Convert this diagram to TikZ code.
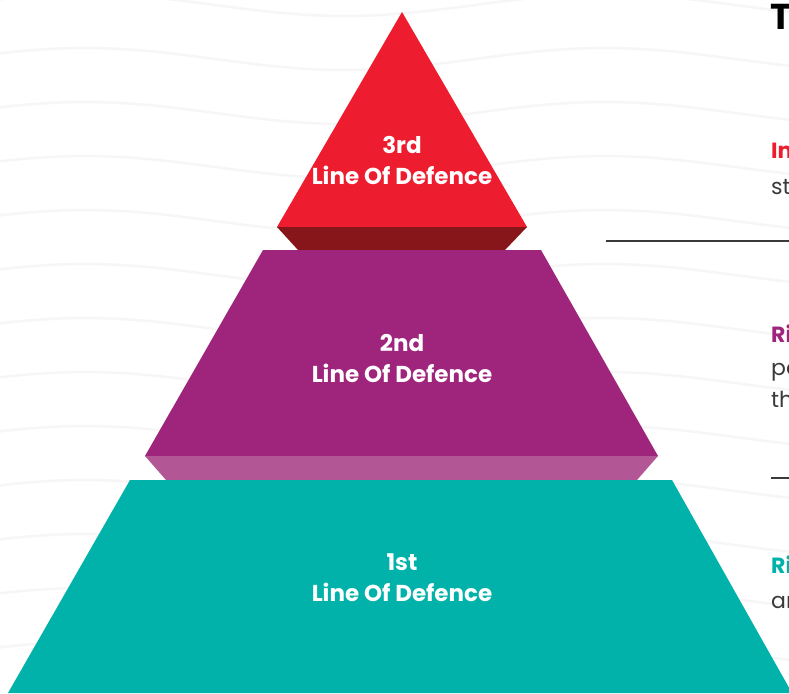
\documentclass[tikz,border=0pt]{standalone}
\usepackage{fontspec}
\setmainfont{Poppins}[BoldFont={Poppins SemiBold}]
\newfontfamily\heavy{Poppins}[UprightFont={* Bold}]
\definecolor{cRed}{HTML}{ED1C2E}
\definecolor{cDarkRed}{HTML}{86161A}
\definecolor{cPurple}{HTML}{9E247C}
\definecolor{cLightPurple}{HTML}{B25696}
\definecolor{cTeal}{HTML}{00B2A9}
\definecolor{cWave}{HTML}{F6F6F6}
\definecolor{cBody}{HTML}{3A3A3A}
\tikzset{
  wave/.style={draw=cWave, line width=2.5pt},
  lab/.style={text=white, font=\heavy\fontsize{23}{26}\selectfont, anchor=base, inner sep=0pt},
  head/.style={font=\heavy\fontsize{22}{26}\selectfont, anchor=base west, inner sep=0pt},
  body/.style={text=cBody, font=\fontsize{22}{26}\selectfont, anchor=base west, inner sep=0pt},
  rule/.style={draw=cBody, line width=1.3pt}
}
\begin{document}
\begin{tikzpicture}[x=1pt,y=-1pt]
\useasboundingbox (0,0) rectangle (789,693);
\clip (0,0) rectangle (789,693);
\fill[white] (0,0) rectangle (789,693);
% background waves
\foreach \c in {5,59,...,740}
  \draw[wave] plot[domain=-10:800,samples=60,smooth] (\x,{\c-11*cos(0.6923*(\x-85))});
% pyramid
\fill[cRed] (402,12) -- (527,227) -- (277,227) -- cycle;
\fill[cDarkRed] (277,227) -- (527,227) -- (505,250) -- (298,250) -- cycle;
\fill[cPurple] (263,250) -- (541,250) -- (658,456) -- (145,456) -- cycle;
\fill[cLightPurple] (145,456) -- (658,456) -- (637,480) -- (166,480) -- cycle;
\fill[cTeal] (130,480) -- (672,480) -- (792,693) -- (8,693) -- cycle;
% labels
\node[lab] (l3a) at (402,153) {3rd};
\node[lab] (l3b) at (402,184) {Line Of Defence};
\node[lab] (l2a) at (402,351) {2nd};
\node[lab] (l2b) at (402,382) {Line Of Defence};
\node[lab] (l1a) at (402,570) {1st};
\node[lab] (l1b) at (402,601) {Line Of Defence};
% right-hand column (cut off by the frame)
\node[anchor=base west, inner sep=0pt, font=\heavy\fontsize{36}{40}\selectfont] (title) at (770,30) {T};
\node[head, text=cRed] (h3) at (771,158) {In};
\node[body] (b3) at (771,194) {sto};
\coordinate (r1a) at (606,241);
\coordinate (r1b) at (789,241);
\draw[rule] (r1a) -- (r1b);
\node[head, text=cPurple] (h2) at (771,342) {Ri};
\node[body] (b2a) at (771,375) {po};
\node[body] (b2b) at (771,407) {th};
\coordinate (r2a) at (771,478);
\coordinate (r2b) at (789,478);
\draw[rule] (r2a) -- (r2b);
\node[head, text=cTeal] (h1) at (771,573) {Ri};
\node[body] (b1) at (771,608) {ar};
\end{tikzpicture}
\end{document}
